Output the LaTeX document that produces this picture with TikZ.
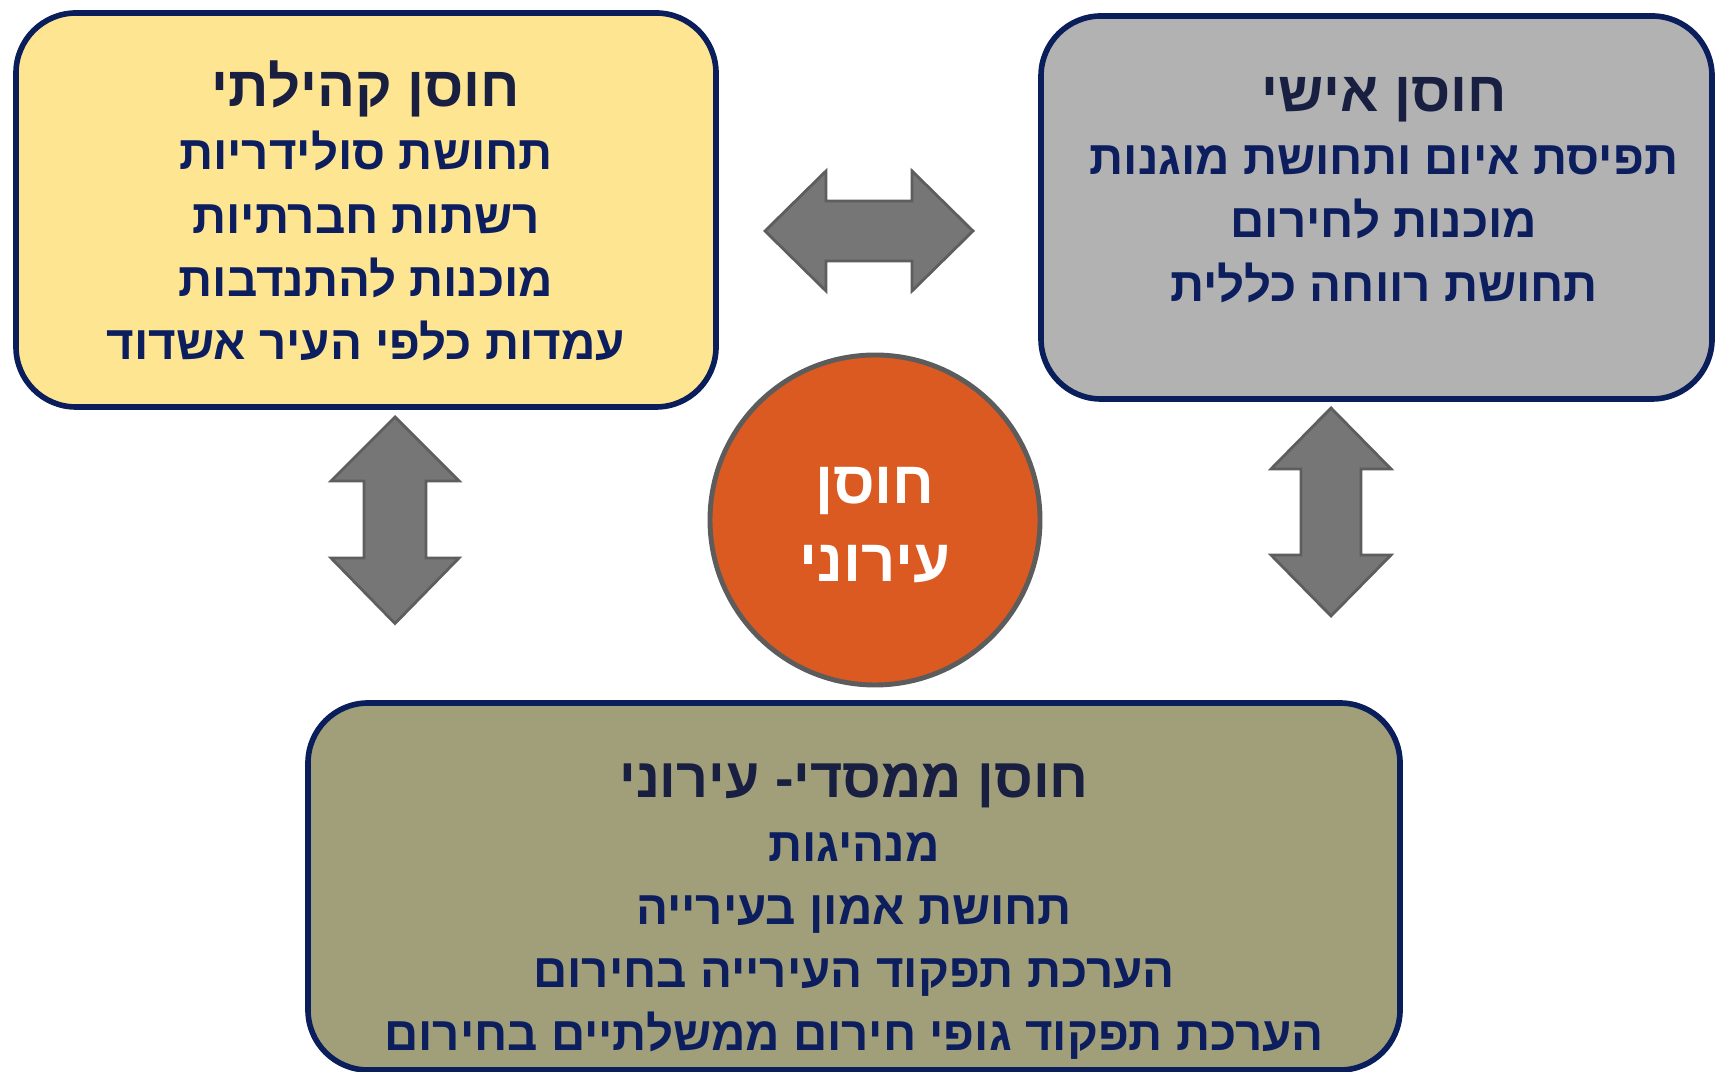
\documentclass[tikz,border=0pt]{standalone}
\usepackage{fontspec}
\newfontfamily\hebfont[Script=Hebrew]{Liberation Sans}
\TeXXeTstate=1
\newcommand{\heb}[1]{\beginR#1\endR}
\newcommand{\boxtitle}[1]{{\color{titletext}\fontsize{16}{18}\selectfont\heb{#1}}}
\definecolor{boxline}{HTML}{0B1E5C}
\definecolor{itemtext}{HTML}{0C1E5E}
\definecolor{titletext}{HTML}{181F40}
\definecolor{communityfill}{HTML}{FDE592}
\definecolor{personalfill}{HTML}{B2B2B2}
\definecolor{civicfill}{HTML}{A09F7A}
\definecolor{hubfill}{HTML}{DB5A22}
\definecolor{hubline}{HTML}{5C5C5C}
\definecolor{arrowfill}{HTML}{767676}
\definecolor{arrowline}{HTML}{5E5E5E}
\begin{document}
\begin{tikzpicture}[
    box/.style={rectangle, rounded corners=0.6cm, draw=boxline, line width=1.6pt, inner sep=0pt},
    community/.style={box, fill=communityfill, minimum width=7.0cm, minimum height=3.94cm},
    personal/.style={box, fill=personalfill, minimum width=6.71cm, minimum height=3.83cm},
    civic/.style={box, fill=civicfill, minimum width=10.92cm, minimum height=3.67cm},
    hub/.style={circle, fill=hubfill, draw=hubline, line width=1.4pt, minimum size=3.3cm, inner sep=0pt},
    lines/.style={align=center, text=itemtext, font=\hebfont\bfseries\fontsize{13.5}{18}\selectfont},
    blockarrow/.style={fill=arrowfill, draw=arrowline, line width=0.8pt, line join=miter},
]
\useasboundingbox (0,0) rectangle (17.15,-10.72);

% === Boxes ===
\node[community] (comm) at (3.66,-2.10) {};
\node[personal] (pers) at (13.765,-2.075) {};
\node[civic] (civ) at (8.54,-8.865) {};

% Center circle
\node[hub] (hub) at (8.75,-5.20) {};

% === Box texts ===
\node[lines] (commtext) at (3.66,-2.11) {%
    \boxtitle{חוסן קהילתי}\\
    \heb{תחושת סולידריות}\\
    \heb{רשתות חברתיות}\\
    \heb{מוכנות להתנדבות}\\
    \heb{עמדות כלפי העיר אשדוד}};

\node[lines] (perstext) at (13.84,-1.90) {%
    \boxtitle{חוסן אישי}\\
    \heb{תפיסת איום ותחושת מוגנות}\\
    \heb{מוכנות לחירום}\\
    \heb{תחושת רווחה כללית}};

\node[lines] (civtext) at (8.54,-9.12) {%
    {\color{titletext}\fontsize{15.8}{18}\selectfont\heb{חוסן ממסדי- עירוני}}\\
    \heb{מנהיגות}\\
    \heb{תחושת אמון בעירייה}\\
    \heb{הערכת תפקוד העירייה בחירום}\\
    \heb{הערכת תפקוד גופי חירום ממשלתיים בחירום}};

\node[lines, text=white, font=\hebfont\bfseries\fontsize{17}{22}\selectfont] (hubtext) at (8.75,-5.25) {%
    \heb{חוסן}\\
    \heb{עירוני}};

% === Block arrows ===
% between the two top boxes
\draw[blockarrow] (7.65,-2.31) -- (8.26,-1.71) -- (8.26,-2.01) -- (9.12,-2.01)
    -- (9.12,-1.71) -- (9.73,-2.31) -- (9.12,-2.91) -- (9.12,-2.61)
    -- (8.26,-2.61) -- (8.26,-2.91) -- cycle;

% left, under the community box
\draw[blockarrow] (3.95,-4.17) -- (4.59,-4.81) -- (4.26,-4.81) -- (4.26,-5.58)
    -- (4.59,-5.58) -- (3.95,-6.235) -- (3.31,-5.58) -- (3.64,-5.58)
    -- (3.64,-4.81) -- (3.31,-4.81) -- cycle;

% right, under the personal box
\draw[blockarrow] (13.31,-4.08) -- (13.91,-4.69) -- (13.61,-4.69) -- (13.61,-5.55)
    -- (13.91,-5.55) -- (13.31,-6.16) -- (12.71,-5.55) -- (13.01,-5.55)
    -- (13.01,-4.69) -- (12.71,-4.69) -- cycle;

\end{tikzpicture}
\end{document}
